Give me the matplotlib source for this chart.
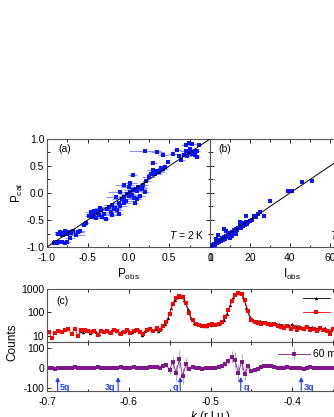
import numpy as np
import matplotlib
matplotlib.use("Agg")
import matplotlib.pyplot as plt
from matplotlib.ticker import MultipleLocator, FixedLocator, NullFormatter, NullLocator

plt.rcParams['font.family'] = ['Liberation Sans', 'DejaVu Sans']
plt.rcParams['font.size'] = 7.5
plt.rcParams['mathtext.fontset'] = 'custom'
plt.rcParams['mathtext.it'] = 'Liberation Sans:italic'
plt.rcParams['mathtext.rm'] = 'Liberation Sans'

# ---------------- datos panel (a): polarizacion ----------------
p_obs = [-0.92, -0.90, -0.88, -0.85, -0.82, -0.78, -0.75, -0.86, -0.84, -0.82, -0.80, -0.78,
         -0.76, -0.73, -0.70, -0.68, -0.65, -0.62, -0.72, -0.60, -0.55, -0.80,
         -0.52, -0.48, -0.46, -0.44, -0.42, -0.40, -0.38, -0.36, -0.34, -0.32, -0.30, -0.28,
         -0.40, -0.45, -0.35, -0.26, -0.24, -0.22, -0.20, -0.18, -0.16, -0.14, -0.12, -0.10,
         -0.08, -0.06, -0.05, -0.03, -0.02, 0.00, 0.02, 0.04, 0.05, 0.07, 0.08, 0.10, 0.12,
         0.14, 0.15, 0.17, -0.10, -0.15, 0.00, 0.05, 0.02, -0.05, 0.10, -0.20, -0.12, 0.18,
         0.20, 0.08,
         0.22, 0.25, 0.28, 0.30, 0.32, 0.35, 0.38, 0.40, 0.42, 0.45, 0.30, 0.48,
         0.20, 0.35, 0.42, 0.55, 0.60, 0.65, 0.68, 0.70, 0.72, 0.74, 0.76, 0.78, 0.80, 0.82,
         0.84, 0.78, 0.74, 0.86, 0.84, 0.70, 0.62]
p_cal = [-0.92, -0.90, -0.93, -0.90, -0.91, -0.93, -0.91, -0.75, -0.72, -0.78, -0.74, -0.70,
         -0.76, -0.72, -0.74, -0.70, -0.77, -0.73, -0.83, -0.70, -0.60, -0.78,
         -0.55, -0.42, -0.35, -0.38, -0.33, -0.36, -0.34, -0.40, -0.32, -0.45, -0.38, -0.48,
         -0.47, -0.44, -0.28, -0.30, -0.26, -0.35, -0.22, -0.30, -0.28, -0.31, -0.18, -0.25,
         -0.12, -0.18, -0.08, -0.14, -0.02, -0.06, 0.02, -0.03, 0.05, -0.10, 0.08, 0.03, 0.12,
         -0.05, 0.10, 0.07, 0.02, -0.08, 0.12, 0.33, 0.18, 0.15, -0.12, -0.40, -0.38, 0.15,
         0.02, -0.18,
         0.22, 0.30, 0.35, 0.42, 0.36, 0.40, 0.38, 0.46, 0.44, 0.48, 0.55, 0.58,
         0.78, 0.75, 0.70, 0.72, 0.80, 0.62, 0.70, 0.78, 0.68, 0.74, 0.82, 0.72, 0.76, 0.70,
         0.78, 0.90, 0.92, 0.88, 0.66, 0.88, 0.68]
p_err = [0.03, 0.05, 0.04, 0.06, 0.05, 0.04, 0.03, 0.05, 0.08, 0.06, 0.10, 0.07,
         0.09, 0.12, 0.10, 0.15, 0.12, 0.08, 0.06, 0.05, 0.04, 0.05,
         0.04, 0.05, 0.06, 0.08, 0.07, 0.10, 0.05, 0.09, 0.06, 0.05, 0.08, 0.04,
         0.05, 0.04, 0.07, 0.12, 0.10, 0.09, 0.11, 0.08, 0.07, 0.06, 0.10, 0.08,
         0.12, 0.09, 0.14, 0.08, 0.10, 0.12, 0.09, 0.11, 0.10, 0.08, 0.09, 0.07, 0.10,
         0.06, 0.08, 0.05, 0.15, 0.12, 0.10, 0.06, 0.09, 0.12, 0.05, 0.06, 0.05, 0.06,
         0.05, 0.04,
         0.06, 0.08, 0.05, 0.07, 0.09, 0.08, 0.06, 0.05, 0.07, 0.04, 0.05, 0.03,
         0.20, 0.08, 0.06, 0.06, 0.05, 0.04, 0.08, 0.07, 0.06, 0.09, 0.05, 0.06, 0.04, 0.05,
         0.04, 0.05, 0.04, 0.03, 0.04, 0.06, 0.03]

# ---------------- datos panel (b): intensidades ----------------
i_obs = [0.5, 1, 1.5, 2, 2.5, 3, 3.5, 4, 4.5, 5, 5.5, 6, 6.5, 7, 7.5, 8, 8.5, 9, 9.5, 10,
         10.5, 11, 11.5, 12, 12.5, 13, 13.5, 14, 15, 15.5, 16, 16.5, 17, 17.5, 18, 18.5,
         19, 20, 21, 22, 23, 24, 25, 27, 30, 39, 41, 46, 51,
         7, 13, 4, 18, 10, 3, 15, 11, 8]
i_cal = [0.3, 1.2, 0.8, 2.5, 1.8, 3.5, 2.6, 4.5, 3.8, 5.2, 4.3, 6.8, 5.5, 7.2, 6.1, 8.5, 7.3,
         9.4, 8.2, 10.7, 9.5, 11.2, 10.1, 12.5, 11.4, 13.6, 12.8, 14.3, 15.6, 14.2, 16.8, 15.3,
         17.9, 16.5, 18.2, 17.2, 18.8, 19.5, 20.1, 23.2, 22.4, 24.3, 25.6, 23.0, 34.0, 41.5,
         41.5, 48.5, 49.2,
         13.0, 10.0, 9.0, 23.0, 6.5, 6.0, 18.5, 8.0, 12.0]

# ---------------- datos panel (c): escaneo en k ----------------
k_red = [-0.698, -0.694, -0.690, -0.686, -0.682, -0.678, -0.674, -0.670, -0.666, -0.662,
         -0.658, -0.654, -0.650, -0.646, -0.642, -0.638, -0.634, -0.630, -0.626, -0.622,
         -0.618, -0.614, -0.610, -0.606, -0.602, -0.598, -0.594, -0.590, -0.586, -0.582,
         -0.578, -0.574, -0.570, -0.566, -0.562, -0.558, -0.554, -0.550, -0.546, -0.542,
         -0.538, -0.534, -0.530, -0.526, -0.522, -0.518, -0.514, -0.510, -0.506, -0.502,
         -0.498, -0.494, -0.490, -0.486, -0.482, -0.478, -0.474, -0.470, -0.466, -0.462,
         -0.458, -0.454, -0.450, -0.446, -0.442, -0.438, -0.434, -0.430, -0.426, -0.422,
         -0.418, -0.414, -0.410, -0.406, -0.402, -0.398, -0.394, -0.390, -0.386, -0.382,
         -0.378, -0.374, -0.370, -0.366, -0.362, -0.358, -0.354, -0.350]
cnt_red = [14, 8, 13, 16, 14, 18, 19, 12, 20, 10,
           17, 18, 15, 14, 16, 11, 15, 14, 16, 13,
           17, 15, 12, 14, 17, 13, 16, 18, 14, 12,
           17, 19, 16, 21, 18, 27, 40, 85, 230, 420,
           480, 440, 260, 90, 45, 33, 29, 27, 26, 28,
           30, 29, 32, 38, 60, 120, 300, 560, 680, 600,
           330, 110, 45, 38, 35, 32, 36, 30, 28, 32,
           26, 24, 22, 27, 20, 23, 18, 22, 19, 24,
           17, 20, 15, 21, 18, 16, 12, 19]

k_blk = [-0.660, -0.656, -0.652, -0.648, -0.644, -0.640, -0.636, -0.632, -0.628, -0.624,
         -0.620, -0.616, -0.612, -0.608, -0.604, -0.600, -0.596, -0.592, -0.588, -0.584,
         -0.580, -0.576, -0.572, -0.568, -0.564, -0.560, -0.556, -0.552, -0.548, -0.544,
         -0.540, -0.536, -0.532, -0.528, -0.524, -0.520, -0.516, -0.512, -0.508, -0.504,
         -0.500, -0.496, -0.492, -0.488, -0.484, -0.480, -0.476, -0.472, -0.468, -0.464,
         -0.460, -0.456, -0.452, -0.448, -0.444, -0.440, -0.436, -0.432, -0.428, -0.424,
         -0.420, -0.416, -0.412, -0.408, -0.404, -0.400, -0.396, -0.392, -0.388, -0.384,
         -0.380, -0.376, -0.372, -0.368, -0.364, -0.360, -0.356, -0.352]
cnt_blk = [15, 14, 16, 13, 15, 14, 12, 16, 15, 14,
           17, 16, 13, 15, 16, 15, 14, 20, 17, 11,
           16, 21, 17, 19, 16, 22, 32, 55, 150, 340,
           470, 470, 350, 140, 55, 36, 30, 28, 27, 26,
           29, 30, 31, 34, 45, 85, 200, 440, 680, 660,
           450, 160, 60, 46, 44, 42, 40, 38, 36, 34,
           33, 30, 29, 28, 27, 30, 25, 26, 22, 24,
           21, 23, 22, 19, 20, 21, 17, 18]

diff_val = [-2, 1, -3, 0, 2, -1, 1, -2, 3, 0,
            -1, 2, 0, -2, 1, 3, -1, 0, 2, -2,
            1, 0, 4, -1, 2, 0, 3, 1, -2, 2,
            0, 5, 3, 6, 2, 8, 15, -10, 30, -25,
            45, -40, 20, -5, 4, 2, -1, -3, 0, 2,
            1, -2, 3, 8, 20, 35, 55, 40, -25, 30,
            -30, 10, -15, -8, -4, 5, 10, 8, 12, 6,
            2, 0, -2, 4, 1, -1, 2, 0, -3, 1,
            3, 0, 2, -1, 1, 0, 2, 1]
diff_err = [3, 3, 3, 3, 3, 3, 3, 3, 3, 3,
            3, 3, 3, 3, 3, 3, 3, 3, 3, 3,
            3, 3, 3, 3, 3, 3, 3, 3, 3, 3,
            3, 3, 3, 4, 5, 8, 12, 18, 30, 40,
            45, 42, 30, 12, 6, 4, 3, 3, 3, 3,
            3, 3, 3, 5, 8, 15, 30, 42, 45, 40,
            30, 15, 8, 5, 4, 4, 4, 4, 4, 3,
            3, 3, 3, 3, 3, 3, 3, 3, 3, 3,
            3, 3, 3, 3, 3, 3, 3, 3]

arrow_k = [-0.687, -0.613, -0.537, -0.463, -0.389]
arrow_lbl = ['5q', '3q', 'q', 'q', '3q']
arrow_side = ['right', 'left', 'left', 'right', 'right']

# ---------------- figura ----------------
fig = plt.figure(figsize=(3.34, 4.17), dpi=100)
W, H = 334.0, 417.0


def caja(x0, y_top, x1, y_bot):
    return [x0 / W, 1 - y_bot / H, (x1 - x0) / W, (y_bot - y_top) / H]


spine_col = '#555555'


def estilo(ax):
    ax.tick_params(which='both', direction='in', top=True, right=True,
                   colors='black', labelsize=7.5, width=0.6)
    ax.tick_params(axis='x', pad=4)
    ax.tick_params(axis='y', pad=2)
    ax.tick_params(which='major', length=3)
    ax.tick_params(which='minor', length=1.8)
    for s in ax.spines.values():
        s.set_color(spine_col)
        s.set_linewidth(0.8)


ax_a = fig.add_axes(caja(47, 139, 210, 247))
ax_b = fig.add_axes(caja(210, 139, 374, 247))
ax_c1 = fig.add_axes(caja(47, 289, 374, 342))
ax_c2 = fig.add_axes(caja(47, 342, 374, 391))

# panel (a)
ax_a.errorbar(p_obs, p_cal, xerr=p_err, fmt='none', ecolor='#8f8fff', elinewidth=0.8, zorder=2)
ax_a.plot(p_obs, p_cal, 's', color='#0a14ff', markersize=2.3, markeredgewidth=0, zorder=3)
ax_a.plot([-1, 1], [-1, 1], color='black', linewidth=0.7, zorder=4)
ax_a.set_xlim(-1, 1)
ax_a.set_ylim(-1, 1)
ax_a.xaxis.set_major_locator(FixedLocator([-1, -0.5, 0, 0.5, 1]))
ax_a.set_xticklabels(['-1.0', '-0.5', '0.0', '0.5', '1'])
ax_a.yaxis.set_major_locator(FixedLocator([-1, -0.5, 0, 0.5, 1]))
ax_a.set_yticklabels(['-1.0', '-0.5', '0.0', '0.5', '1.0'])
ax_a.xaxis.set_minor_locator(MultipleLocator(0.25))
ax_a.yaxis.set_minor_locator(MultipleLocator(0.25))
estilo(ax_a)
ax_a.set_xlabel(r'P$_\mathrm{obs}$', fontsize=8.5, labelpad=3)
ax_a.set_ylabel(r'P$_\mathrm{cal}$', fontsize=8.5, labelpad=1)
ax_a.text(0.07, 0.88, '(a)', transform=ax_a.transAxes, fontsize=7.5)
ax_a.text(0.97, 0.07, r'$T$ = 2 K', transform=ax_a.transAxes, fontsize=7.5, ha='right')

# panel (b)
ax_b.plot(i_obs, i_cal, 's', color='#0a14ff', markersize=2.3, markeredgewidth=0, zorder=3)
ax_b.plot([0, 80], [0, 80], color='black', linewidth=0.7, zorder=4)
ax_b.set_xlim(0, 82)
ax_b.set_ylim(0, 80)
ax_b.xaxis.set_major_locator(MultipleLocator(20))
ax_b.xaxis.set_minor_locator(MultipleLocator(10))
ax_b.yaxis.set_major_locator(MultipleLocator(20))
ax_b.yaxis.set_minor_locator(MultipleLocator(10))
ax_b.yaxis.set_major_formatter(NullFormatter())
estilo(ax_b)
ax_b.set_xlabel(r'I$_\mathrm{obs}$', fontsize=8.5, labelpad=3)
ax_b.text(0.05, 0.88, '(b)', transform=ax_b.transAxes, fontsize=7.5)
ax_b.text(0.73, 0.07, r'$T$ = 60 mK', transform=ax_b.transAxes, fontsize=7.5)

# panel (c) superior
ax_c1.plot(k_blk, cnt_blk, '-^', color='black', markersize=2.4, linewidth=0.6,
           markeredgewidth=0, label='60 mK, +')
ax_c1.plot(k_red, cnt_red, '-s', color='#ff0000', markersize=2.4, linewidth=0.6,
           markeredgewidth=0, label='60 mK, -')
ax_c1.set_yscale('log')
ax_c1.set_xlim(-0.7, -0.3)
ax_c1.set_ylim(5.3, 1000)
ax_c1.yaxis.set_major_locator(FixedLocator([10, 100, 1000]))
ax_c1.set_yticklabels(['10', '100', '1000'])
ax_c1.yaxis.set_minor_locator(NullLocator())
ax_c1.xaxis.set_major_locator(MultipleLocator(0.1))
ax_c1.xaxis.set_minor_locator(MultipleLocator(0.05))
ax_c1.xaxis.set_major_formatter(NullFormatter())
estilo(ax_c1)
ax_c1.text(0.03, 0.72, '(c)', transform=ax_c1.transAxes, fontsize=7.5)
ax_c1.legend(loc='upper left', bbox_to_anchor=(0.76, 1.05), frameon=False, fontsize=7.5,
             handlelength=2.6, handletextpad=0.4, borderpad=0.2, labelspacing=0.35)

# panel (c) inferior
ax_c2.errorbar(k_red, diff_val, yerr=diff_err, fmt='-s', color='#7d1a88', ecolor='#c79bd0',
               markersize=2.4, linewidth=0.6, markeredgewidth=0, elinewidth=0.7,
               label='60 mK')
ax_c2.set_xlim(-0.7, -0.3)
ax_c2.set_ylim(-115, 130)
ax_c2.yaxis.set_major_locator(FixedLocator([-100, 0, 100]))
ax_c2.set_yticklabels(['-100', '0', '100'])
ax_c2.set_xticks([-0.7, -0.6, -0.5, -0.4, -0.3])
ax_c2.set_xticklabels(['-0.7', '-0.6', '-0.5', '-0.4', '-0.3'])
ax_c2.xaxis.set_minor_locator(MultipleLocator(0.05))
estilo(ax_c2)
ax_c2.set_xlabel(r'$k$ (r.l.u.)', fontsize=8.5, labelpad=2)
ax_c2.legend(loc='upper left', bbox_to_anchor=(0.685, 1.0), frameon=False, fontsize=7.5,
             handlelength=3.0, handletextpad=0.3, borderpad=0.2)

for kk, lbl, side in zip(arrow_k, arrow_lbl, arrow_side):
    ax_c2.annotate('', xy=(kk, -45), xytext=(kk, -112),
                   arrowprops=dict(arrowstyle='-|>', color='#1f3cff', lw=0.8,
                                   mutation_scale=6, shrinkA=0, shrinkB=0))
    dx = 0.003 if side == 'right' else -0.003
    ax_c2.text(kk + dx, -95, lbl, color='#1f3cff', fontsize=6.5, fontweight='bold',
               ha='left' if side == 'right' else 'right', va='center')

fig.text(12 / W, 1 - 342 / H, 'Counts', rotation=90, fontsize=8.5, ha='center', va='center')

plt.savefig('out.png', dpi=100)
